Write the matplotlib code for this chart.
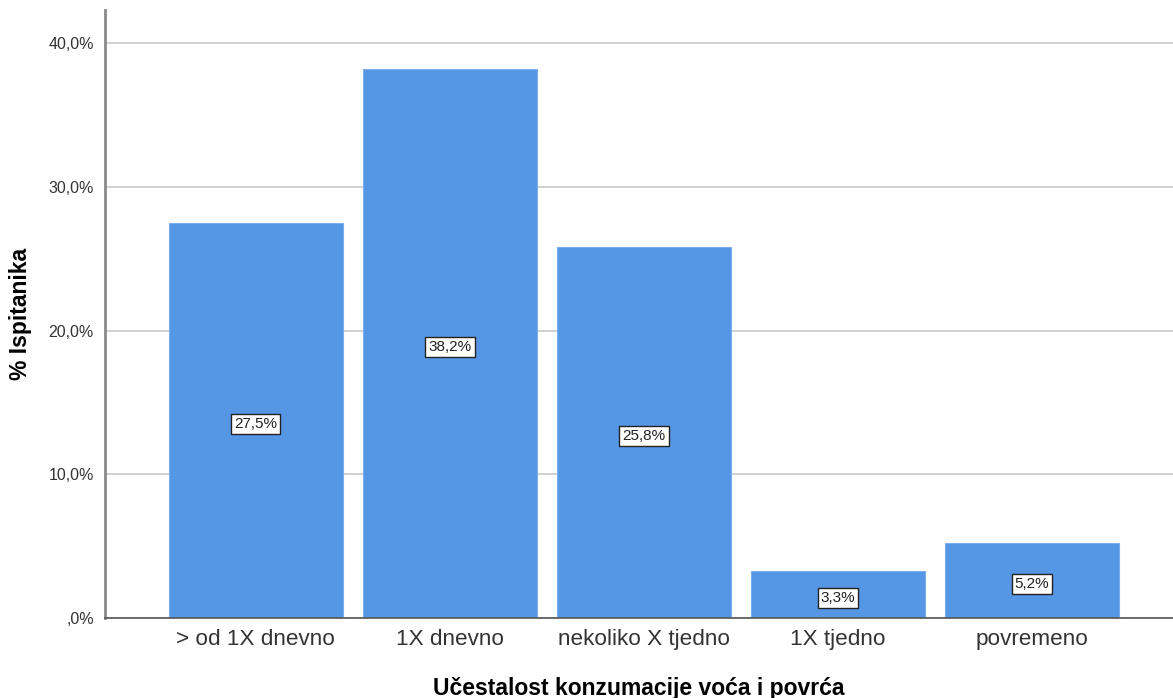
import matplotlib
matplotlib.use("Agg")
import matplotlib.pyplot as plt

categories = ["> od 1X dnevno", "1X dnevno", "nekoliko X tjedno", "1X tjedno", "povremeno"]
percent = [27.5, 38.2, 25.8, 3.3, 5.2]
y_ticks = [0, 10, 20, 30, 40]
y_tick_labels = [",0%", "10,0%", "20,0%", "30,0%", "40,0%"]


def main():
    plt.rcParams["font.family"] = ["Liberation Sans", "DejaVu Sans"]
    fig = plt.figure(figsize=(11.73, 6.98), dpi=100)
    ax = fig.add_axes([0.0895, 0.1146, 0.9105, 0.8711])

    x = range(len(categories))
    ax.bar(x, percent, width=0.897, color="#5596e5", edgecolor="#7aaeed",
           linewidth=0.8, zorder=2)

    for xi, v in zip(x, percent):
        lab = ("%.1f%%" % v).replace(".", ",")
        ax.text(xi, v / 2 - 0.25, lab, ha="center", va="center", fontsize=11,
                color="#222222", zorder=3,
                bbox=dict(boxstyle="square,pad=0.2", fc="white", ec="#222222", lw=1))

    ax.set_xlim(-0.778, 4.727)
    ax.set_ylim(0, 42.3)
    ax.set_yticks(y_ticks)
    ax.set_yticklabels(y_tick_labels, fontsize=11.5, color="#333333")
    ax.set_xticks(list(x))
    ax.set_xticklabels(categories, fontsize=16.2, color="#333333")
    ax.tick_params(axis="both", length=0)
    ax.tick_params(axis="x", pad=8)
    ax.tick_params(axis="y", pad=8)

    ax.yaxis.grid(True, color="#c8c8c8", linewidth=1.2, zorder=0)
    ax.set_axisbelow(True)
    for s in ["top", "right"]:
        ax.spines[s].set_visible(False)
    ax.spines["left"].set_color("#8a8a8a")
    ax.spines["left"].set_linewidth(2)
    ax.spines["bottom"].set_color("#555555")
    ax.spines["bottom"].set_linewidth(1.2)

    ax.set_xlabel("Učestalost konzumacije voća i povrća", fontsize=16.5,
                  fontweight="bold", labelpad=19)
    ax.set_ylabel("% Ispitanika", fontsize=16.5, fontweight="bold", labelpad=12)

    fig.savefig("out.png", dpi=100)
    plt.close(fig)


if __name__ == '__main__':
    main()
